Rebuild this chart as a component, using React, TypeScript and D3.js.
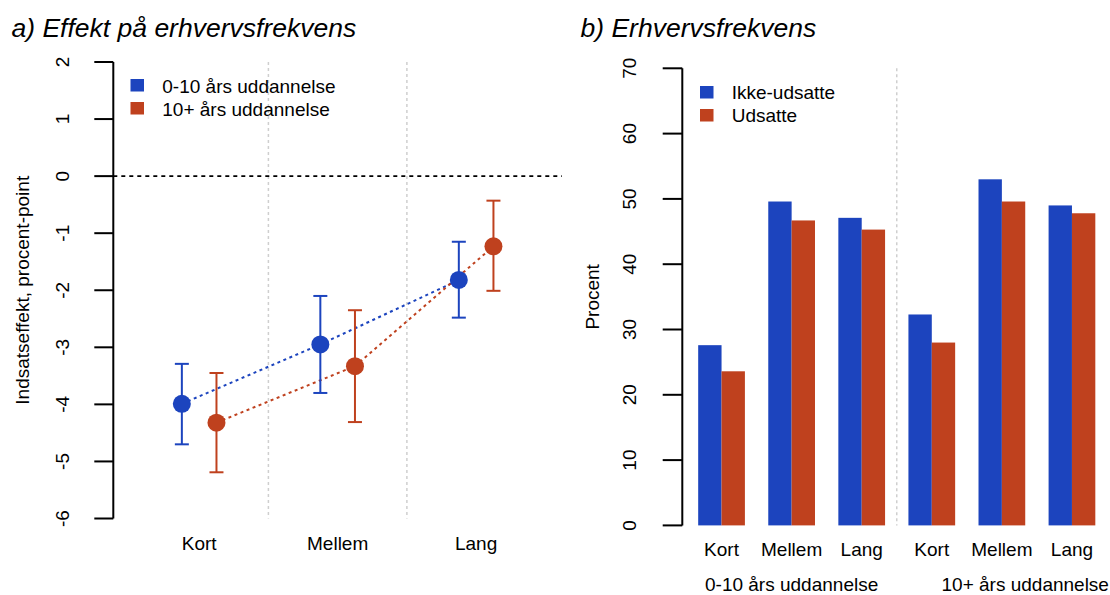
import * as d3 from "d3";

// panel a: effect estimates with 95% intervals
const categories = ["Kort", "Mellem", "Lang"];
const blueEst = [-3.99, -2.95, -1.82];
const blueLo = [-4.7, -3.8, -2.48];
const blueHi = [-3.29, -2.1, -1.15];
const redEst = [-4.32, -3.33, -1.23];
const redLo = [-5.19, -4.31, -2.01];
const redHi = [-3.45, -2.35, -0.43];
const effectTicks = [2, 1, 0, -1, -2, -3, -4, -5, -6];
const legendA = ["0-10 års uddannelse", "10+ års uddannelse"];

// panel b: employment rate
const barCategories = ["Kort", "Mellem", "Lang", "Kort", "Mellem", "Lang"];
const ikkeUdsatte = [27.6, 49.6, 47.1, 32.3, 53.0, 49.0];
const udsatte = [23.6, 46.7, 45.3, 28.0, 49.6, 47.8];
const rateTicks = [0, 10, 20, 30, 40, 50, 60, 70];
const legendB = ["Ikke-udsatte", "Udsatte"];
const groupLabels = ["0-10 års uddannelse", "10+ års uddannelse"];

const BLUE = "#1C44BE";
const RED = "#BF411E";
const FONT = "'Liberation Sans', Arial, sans-serif";

export default function App() {
  // left panel scales (R style xlim with 4% padding)
  const xA = d3.scaleLinear().domain([0.38, 3.62]).range([113.3, 562]);
  const yA = d3.scaleLinear().domain([-6, 2]).range([518.5, 62]);
  const off = 0.125;

  // right panel scales (barplot units)
  const xB = d3.scaleLinear().domain([0.32, 18.68]).range([682.3, 1111.2]);
  const yB = d3.scaleLinear().domain([0, 70]).range([525.4, 68.3]);
  const unit = xB(1) - xB(0);

  const series = [
    { est: blueEst, lo: blueLo, hi: blueHi, color: BLUE, dx: -off },
    { est: redEst, lo: redLo, hi: redHi, color: RED, dx: off },
  ];

  return (
    <div style={{ position: "absolute", left: 0, top: 0 }}>
      <svg width={1110} height={595} style={{ display: "block", background: "#fff" }} fontFamily={FONT}>
        {/* ---------- panel a ---------- */}
        <text x={11.5} y={36.5} fontSize={26.5} fontStyle="italic">
          a) Effekt på erhvervsfrekvens
        </text>

        {[1.5, 2.5].map((v) => (
          <line key={v} x1={xA(v)} x2={xA(v)} y1={yA(2)} y2={yA(-6)} stroke="#cfcfcf" strokeWidth={1.5} strokeDasharray="3,3" />
        ))}
        <line x1={xA(0.38)} x2={xA(3.62)} y1={yA(0)} y2={yA(0)} stroke="#000" strokeWidth={1.6} strokeDasharray="4,4" />

        {/* y axis */}
        <line x1={xA(0.38)} x2={xA(0.38)} y1={yA(2)} y2={yA(-6)} stroke="#000" strokeWidth={2} />
        {effectTicks.map((t) => (
          <g key={t}>
            <line x1={94.3} x2={113.3} y1={yA(t)} y2={yA(t)} stroke="#000" strokeWidth={2} />
            <text transform={`translate(68.5,${yA(t)}) rotate(-90)`} textAnchor="middle" fontSize={19}>
              {t}
            </text>
          </g>
        ))}
        <text transform={`translate(29,${(yA(2) + yA(-6)) / 2}) rotate(-90)`} textAnchor="middle" fontSize={19}>
          Indsatseffekt, procent-point
        </text>
        {categories.map((c, i) => (
          <text key={c} x={xA(i + 1)} y={549.5} textAnchor="middle" fontSize={19}>
            {c}
          </text>
        ))}

        {/* connecting dotted lines */}
        {series.map((s, k) => (
          <path
            key={"l" + k}
            d={d3.line<number>().x((_, i) => xA(i + 1 + s.dx)).y((d) => yA(d))(s.est) || ""}
            fill="none"
            stroke={s.color}
            strokeWidth={2}
            strokeDasharray="3,3.5"
          />
        ))}
        {/* error bars and points */}
        {series.map((s, k) =>
          s.est.map((v, i) => {
            const cx = xA(i + 1 + s.dx);
            return (
              <g key={`p${k}-${i}`} stroke={s.color} strokeWidth={2}>
                <line x1={cx} x2={cx} y1={yA(s.hi[i])} y2={yA(s.lo[i])} />
                <line x1={cx - 7} x2={cx + 7} y1={yA(s.hi[i])} y2={yA(s.hi[i])} />
                <line x1={cx - 7} x2={cx + 7} y1={yA(s.lo[i])} y2={yA(s.lo[i])} />
                <circle cx={cx} cy={yA(v)} r={9} fill={s.color} stroke="none" />
              </g>
            );
          })
        )}
        {legendA.map((l, i) => (
          <g key={l}>
            <rect x={130.5} y={79 + i * 23} width={13.5} height={12.5} fill={i === 0 ? BLUE : RED} />
            <text x={162.3} y={92.5 + i * 23} fontSize={19}>
              {l}
            </text>
          </g>
        ))}

        {/* ---------- panel b ---------- */}
        <text x={580.5} y={36.5} fontSize={26.5} fontStyle="italic">
          b) Erhvervsfrekvens
        </text>
        <line x1={xB(9.5)} x2={xB(9.5)} y1={yB(70)} y2={yB(0)} stroke="#cfcfcf" strokeWidth={1.5} strokeDasharray="3,3" />

        {ikkeUdsatte.map((v, g) => (
          <rect key={"b" + g} x={xB(1 + 3 * g)} y={yB(v)} width={unit} height={yB(0) - yB(v)} fill={BLUE} />
        ))}
        {udsatte.map((v, g) => (
          <rect key={"r" + g} x={xB(2 + 3 * g)} y={yB(v)} width={unit} height={yB(0) - yB(v)} fill={RED} />
        ))}

        <line x1={xB(0.32)} x2={xB(0.32)} y1={yB(70)} y2={yB(0)} stroke="#000" strokeWidth={2} />
        {rateTicks.map((t) => (
          <g key={t}>
            <line x1={662.7} x2={682.3} y1={yB(t)} y2={yB(t)} stroke="#000" strokeWidth={2} />
            <text transform={`translate(635.5,${yB(t)}) rotate(-90)`} textAnchor="middle" fontSize={19}>
              {t}
            </text>
          </g>
        ))}
        <text transform={`translate(598.5,${(yB(0) + yB(70)) / 2}) rotate(-90)`} textAnchor="middle" fontSize={19}>
          Procent
        </text>
        {barCategories.map((c, g) => (
          <text key={g} x={xB(2 + 3 * g)} y={556} textAnchor="middle" fontSize={19}>
            {c}
          </text>
        ))}
        {groupLabels.map((l, i) => (
          <text key={l} x={xB(5 + 10 * i)} y={590.5} textAnchor="middle" fontSize={19}>
            {l}
          </text>
        ))}
        {legendB.map((l, i) => (
          <g key={l}>
            <rect x={700} y={86 + i * 23} width={13.5} height={12.5} fill={i === 0 ? BLUE : RED} />
            <text x={731.7} y={99 + i * 23} fontSize={19}>
              {l}
            </text>
          </g>
        ))}
      </svg>
    </div>
  );
}
